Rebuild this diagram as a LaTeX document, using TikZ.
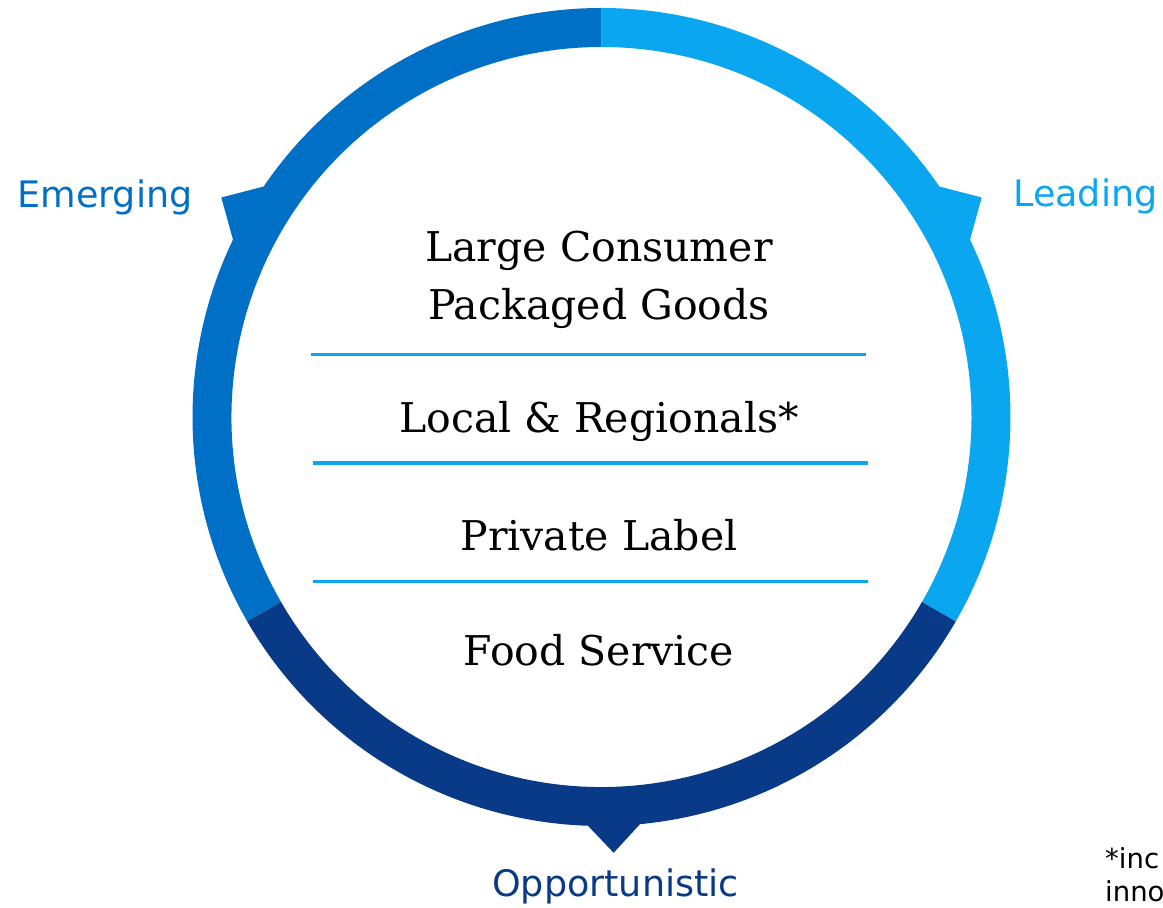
\documentclass[tikz,border=0pt]{standalone}
\usepackage{fontspec}
\setmainfont{DejaVu Serif}
\newfontfamily\labelfont{DejaVu Sans}
\usetikzlibrary{calc}
\definecolor{leadblue}{HTML}{0AA6F0}
\definecolor{emergeblue}{HTML}{0070C6}
\definecolor{oppblue}{HTML}{083A88}
\tikzset{
  row/.style  ={font=\fontsize{41}{48}\selectfont, anchor=base, inner sep=0pt},
  lbl/.style  ={font=\labelfont\fontsize{36.5}{40}\selectfont, anchor=base, inner sep=0pt},
  note/.style ={font=\labelfont\fontsize{27.5}{33}\selectfont, anchor=base west, inner sep=0pt},
  sep/.style  ={draw=leadblue, line width=3.2pt},
}

\begin{document}
\begin{tikzpicture}[x=1pt,y=1pt]
  \useasboundingbox (0,0) rectangle (1163,908);
  \def\ro{409}
  \def\ri{370}
  \def\tip{439}
  \coordinate (c) at (601.5,491);
  % ring segments, each with its pointer on the outer edge
  \fill[emergeblue] ($(c)+(90:\ro)$) arc[start angle=90,end angle=145.7,radius=\ro]
        -- ($(c)+(150:\tip)$) -- ($(c)+(154.3:\ro)$)
        arc[start angle=154.3,end angle=210,radius=\ro]
        -- ($(c)+(210:\ri)$) arc[start angle=210,end angle=90,radius=\ri] -- cycle;
  \fill[leadblue] ($(c)+(-30:\ro)$) arc[start angle=-30,end angle=25.7,radius=\ro]
        -- ($(c)+(30:\tip)$) -- ($(c)+(34.3:\ro)$)
        arc[start angle=34.3,end angle=90,radius=\ro]
        -- ($(c)+(90:\ri)$) arc[start angle=90,end angle=-30,radius=\ri] -- cycle;
  \fill[oppblue] ($(c)+(210:\ro)$) arc[start angle=210,end angle=268.1,radius=\ro]
        -- ($(c)+(271.6:436)$) -- ($(c)+(275.4:\ro)$)
        arc[start angle=275.4,end angle=330,radius=\ro]
        -- ($(c)+(330:\ri)$) arc[start angle=330,end angle=210,radius=\ri] -- cycle;

  \node[lbl,text=emergeblue] (emerging) at (105,700) {Emerging};
  \node[lbl,text=leadblue]   (leading)  at (1085.5,701) {Leading};
  \node[lbl,text=oppblue]    (opport)   at (615.5,11) {Opportunistic};

  \node[row] (cpg1)    at (599,646) {Large Consumer};
  \node[row] (cpg2)    at (599,588) {Packaged Goods};
  \draw[sep] (311,553.3) -- (866,553.3);
  \node[row] (local)   at (599,475) {Local \& Regionals*};
  \draw[sep] (313,445) -- (868,445);
  \node[row] (private) at (599,357) {Private Label};
  \draw[sep] (313,326.5) -- (868,326.5);
  \node[row] (food)    at (599,242) {Food Service};

  \node[note] (note1) at (1105,39) {*inc};
  \node[note] (note2) at (1105,6)  {inno};
\end{tikzpicture}
\end{document}
